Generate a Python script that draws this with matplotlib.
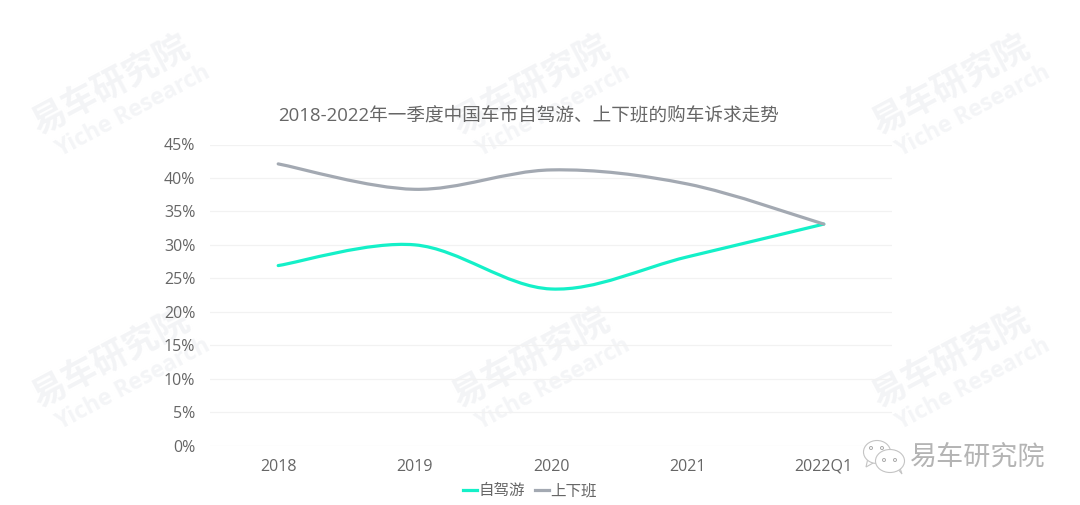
import numpy as np
import matplotlib
matplotlib.use('Agg')
import matplotlib.pyplot as plt
from matplotlib.path import Path
from matplotlib.patches import PathPatch, Ellipse, Polygon

plt.rcParams['font.family'] = ['Open Sans', 'Noto Sans CJK SC', 'DejaVu Sans']

years = ['2018', '2019', '2020', '2021', '2022Q1']
self_drive = [26.9, 30.0, 23.4, 28.2, 33.1]
commute = [42.1, 38.3, 41.2, 39.1, 33.1]
yticks = [0, 5, 10, 15, 20, 25, 30, 35, 40, 45]

title = '2018-2022年一季度中国车市自驾游、上下班的购车诉求走势'
teal = '#14f0c8'
grey = '#a3a9b2'
text_col = '#666666'


def smooth_path(y):
    # same kind of smoothing a spreadsheet line uses, bezier through the points
    x = np.arange(len(y), dtype=float)
    y = np.array(y, dtype=float)
    verts = [(x[0], y[0])]
    codes = [Path.MOVETO]
    for i in range(len(y) - 1):
        p0 = i - 1 if i > 0 else i
        p3 = i + 2 if i + 2 < len(y) else i + 1
        c1 = (x[i] + (x[i + 1] - x[p0]) / 6, y[i] + (y[i + 1] - y[p0]) / 6)
        c2 = (x[i + 1] - (x[p3] - x[i]) / 6, y[i + 1] - (y[p3] - y[i]) / 6)
        verts += [c1, c2, (x[i + 1], y[i + 1])]
        codes += [Path.CURVE4, Path.CURVE4, Path.CURVE4]
    return Path(verts, codes)


fig = plt.figure(figsize=(10.8, 5.05), dpi=100)

# overlay in pixel coordinates for watermark and logo
bg = fig.add_axes([0, 0, 1, 1], zorder=0)
bg.set_xlim(0, 1080)
bg.set_ylim(505, 0)
bg.axis('off')

for wx in [110, 530, 950]:
    for wy in [85, 358]:
        bg.text(wx, wy, '易车研究院', fontsize=25, fontweight='bold', color='#f3f4f6',
                rotation=28, rotation_mode='anchor', ha='center', va='center',
                family=['Noto Sans CJK SC'])
        bg.text(wx + 23, wy + 26, 'Yiche Research', fontsize=16.5, fontweight='bold',
                color='#f4f5f7', rotation=28, rotation_mode='anchor',
                ha='center', va='center', family=['Open Sans'])

ax = fig.add_axes([210 / 1080, 1 - 445.5 / 505, 682 / 1080, 301 / 505], zorder=1)
ax.patch.set_alpha(0)
ax.set_xlim(-0.5, 4.5)
ax.set_ylim(0, 45)
ax.set_yticks(yticks)
ax.set_yticklabels([f'{v}%' for v in yticks])
ax.set_xticks(range(len(years)))
ax.set_xticklabels(years)
ax.tick_params(length=0, labelsize=11.5, labelcolor=text_col)
ax.tick_params(axis='x', pad=9.5)
ax.tick_params(axis='y', pad=10.5)
ax.grid(axis='y', color='#f2f2f2', lw=0.9)
ax.set_axisbelow(True)
for s in ax.spines.values():
    s.set_visible(False)

ax.add_patch(PathPatch(smooth_path(self_drive), fill=False, edgecolor=teal, lw=2.3,
                       capstyle='round', zorder=3))
ax.add_patch(PathPatch(smooth_path(commute), fill=False, edgecolor=grey, lw=2.3,
                       capstyle='round', zorder=4))

fig.text(529 / 1080, 1 - 115.5 / 505, title, fontsize=13.4, color=text_col,
         ha='center', va='center')

# legend
ax.plot([], [], color=teal, lw=2.3, label='自驾游')
ax.plot([], [], color=grey, lw=2.3, label='上下班')
ax.legend(loc='center', bbox_to_anchor=(530 / 1080, 1 - 491 / 505),
          bbox_transform=fig.transFigure, ncol=2, frameon=False, fontsize=11.2,
          labelcolor=text_col, handlelength=0.85, handletextpad=0.1, columnspacing=0.7,
          borderpad=0)

# wechat style logo, on top
top = fig.add_axes([0, 0, 1, 1], zorder=2)
top.set_xlim(0, 1080)
top.set_ylim(505, 0)
top.axis('off')
edge = '#c4c4c4'
top.add_patch(Polygon([(868, 458), (866, 467), (875, 462)], fc='white', ec=edge, lw=0.8))
top.add_patch(Ellipse((877, 452), 27, 23, fc='white', ec=edge, lw=0.8))
top.add_patch(Polygon([(897, 468), (902, 474), (899, 465)], fc='white', ec=edge, lw=0.8))
top.add_patch(Ellipse((890, 461), 29, 23, fc='white', ec=edge, lw=0.8))
for ex, ey in [(871, 448), (882, 448), (884, 460), (895, 460)]:
    top.add_patch(Ellipse((ex, ey), 3, 3, fc='white', ec='#aaaaaa', lw=0.7))
top.text(978, 457, '易车研究院', fontsize=19.5, color='#b4b4b4', ha='center', va='center',
         fontweight='light', family=['Noto Sans CJK SC'])

fig.savefig('out.png', dpi=100)
